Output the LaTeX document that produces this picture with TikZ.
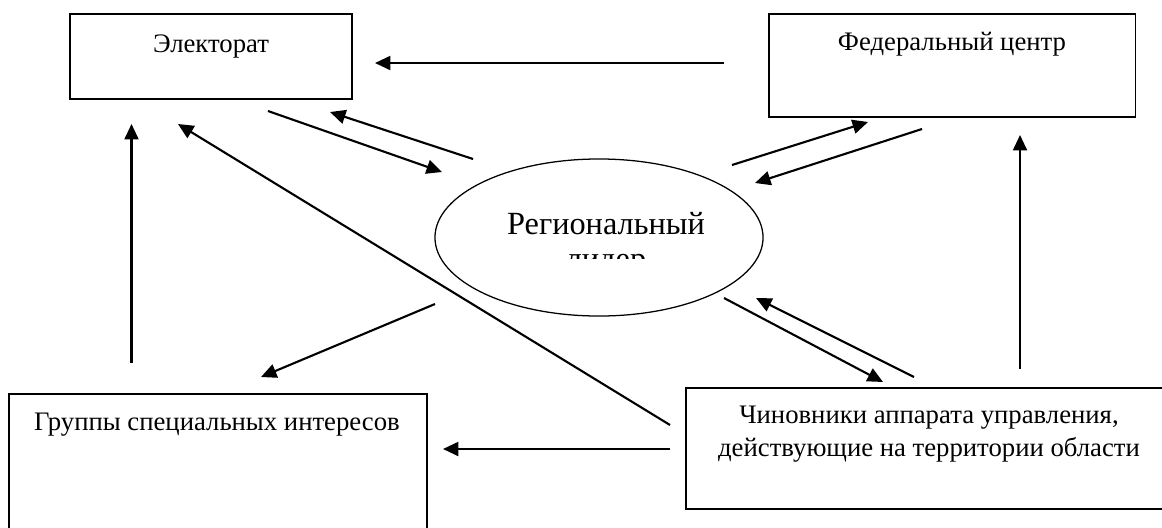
\documentclass[tikz,border=0pt]{standalone}
\usepackage{fontspec}
\setmainfont{Liberation Serif}
\usetikzlibrary{arrows.meta,shapes.geometric,positioning}
\tikzset{
  box/.style={draw,line width=0.8pt,inner sep=0pt},
  arr/.style={-{Triangle[length=11pt,width=10pt]},line width=1.5pt},
  lbl/.style={font=\fontsize{19}{23.4}\selectfont,anchor=base,align=center,inner sep=0pt}
}
\begin{document}
\begin{tikzpicture}[x=0.025cm,y=-0.025cm]
\clip (0,0) rectangle (1162,527);
\node[box,minimum width=7.05cm,minimum height=2.125cm] (elect) at (211,56.5) {};
\node[box,minimum width=9.15cm,minimum height=2.575cm] (fed) at (952,65.5) {};
\node[box,minimum width=10.45cm,minimum height=4.15cm] (groups) at (218,477) {};
\node[box,minimum width=12.225cm,minimum height=3.025cm] (offic) at (930.5,448.5) {};
\node[draw,ellipse,line width=0.9pt,inner sep=0pt,minimum width=8.2cm,minimum height=3.925cm] (lead) at (599,237.5) {};

\node[lbl] (electtxt) at (211,52) {Электорат};
\node[lbl] (fedtxt) at (952,50) {Федеральный центр};
\node[lbl] (groupstxt) at (217,430) {Группы специальных интересов};
\node[lbl] (offictxt) at (929,456) {Чиновники аппарата управления,\\действующие на территории области};
\begin{scope}
\clip (400,150) rectangle (800,258);
\node[lbl,font=\fontsize{23}{24.8}\selectfont] (leadtxt) at (606,269) {Региональный\\лидер};
\end{scope}

\coordinate (fe1) at (724,63);  \coordinate (fe2) at (375,63);
\coordinate (el1) at (268,111); \coordinate (el2) at (442,172);
\coordinate (le1) at (473,159); \coordinate (le2) at (330,112);
\coordinate (ge1) at (131.5,363); \coordinate (ge2) at (131.5,124);
\coordinate (oe1) at (670,425); \coordinate (oe2) at (178,124);
\coordinate (lf1) at (732,165); \coordinate (lf2) at (868,122);
\coordinate (fl1) at (922,129); \coordinate (fl2) at (755,183);
\coordinate (of1) at (1020,369); \coordinate (of2) at (1020,135);
\coordinate (lg1) at (435,304); \coordinate (lg2) at (261,377);
\coordinate (og1) at (670,449); \coordinate (og2) at (443,449);
\coordinate (lo1) at (724,298); \coordinate (lo2) at (883,382);
\coordinate (ol1) at (914,377); \coordinate (ol2) at (756,298);

\foreach \a in {fe,el,le,ge,oe,lf,fl,of,lg,og,lo,ol}
  \draw[arr] (\a1) -- (\a2);
\end{tikzpicture}
\end{document}
